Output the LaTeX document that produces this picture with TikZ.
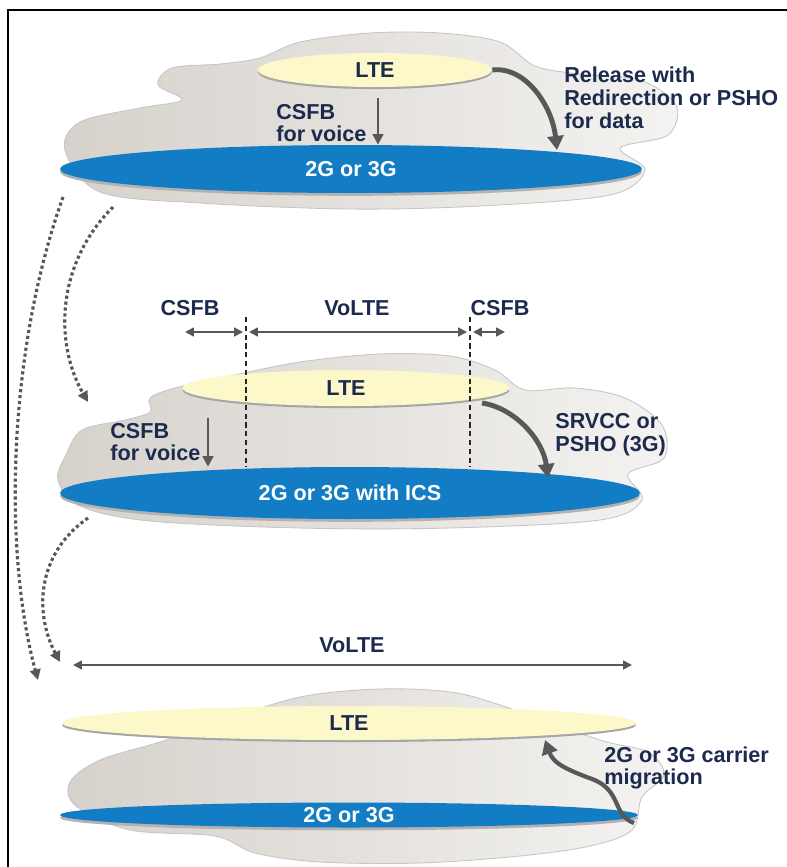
\documentclass[tikz,border=0pt]{standalone}
\usepackage{fontspec}
\setmainfont{Liberation Sans}
\usepackage{xcolor}
\usepackage{tikz}
\usetikzlibrary{arrows.meta,shapes.geometric,shadows,calc,positioning}
\definecolor{azul}{RGB}{18,124,196}
\definecolor{amarillo}{RGB}{252,248,202}
\definecolor{tinta}{RGB}{28,42,78}
\definecolor{flecha}{RGB}{88,88,88}
\definecolor{nubeA}{RGB}{214,209,203}
\definecolor{nubeB}{RGB}{244,243,241}
\tikzset{
  nube/.style={left color=nubeA,right color=nubeB,draw=gray!45,line width=0.5pt},
  lte/.style={ellipse,fill=amarillo,inner sep=0pt,text=tinta,
    drop shadow={shadow xshift=0pt,shadow yshift=-1.2pt,fill=gray!70,opacity=1}},
  banda/.style={ellipse,fill=azul,inner sep=0pt,text=white,
    drop shadow={shadow xshift=0pt,shadow yshift=-1.6pt,fill=gray!60,opacity=1}},
  rotulo/.style={text=tinta,align=left,inner sep=0pt},
  cota/.style={{Triangle[length=5pt,width=5pt]}-{Triangle[length=5pt,width=5pt]},flecha,line width=1pt},
  bajada/.style={-{Triangle[length=6pt,width=6pt]},flecha,line width=1.6pt},
  curva/.style={-{Triangle[length=8pt,width=9pt]},flecha,line width=2.8pt},
  puntos/.style={-{Triangle[length=6pt,width=6pt]},flecha,line width=1.8pt,dash pattern=on 1.8pt off 1.6pt},
  corte/.style={black!85,line width=0.8pt,dash pattern=on 3pt off 2pt}
}
\begin{document}
\begin{tikzpicture}[x=0.02cm,y=-0.02cm,font=\fontsize{12.3}{13}\selectfont\bfseries]
\useasboundingbox (0,0) rectangle (787,867);
\draw[line width=1.4pt] (8,867) -- (8,10) -- (787,10);
% capa superior
\path[nube] plot[smooth cycle,tension=0.55] coordinates {(65,150) (80,122) (140,108) (182,100) (158,85) (172,68) (220,64)
 (260,58) (300,42) (370,33) (440,33) (500,42) (535,66) (580,74) (640,80) (676,105) (668,135) (620,148)
 (645,170) (610,195) (480,206) (350,209) (200,203) (100,192)};
\node[lte,minimum width=4.68cm,minimum height=0.68cm] (lte1) at (375,70) {LTE};
\node[banda,minimum width=11.64cm,minimum height=0.96cm] (banda1) at (351,169) {2G or 3G};
\coordinate (b1) at (378,98);
\draw[bajada] (b1) -- (b1 |- banda1.north);
\node[rotulo,anchor=west] (csfb1) at (276,123) {CSFB\\for voice};
\coordinate (r1) at (557,150);
\draw[curva] (lte1.east) .. controls (525,66) and (552,105) .. (r1);
\node[rotulo,anchor=west] (rel1) at (564,98) {Release with\\Redirection or PSHO\\for data};
% capa intermedia
\node[rotulo] (csfbI) at (190,308) {CSFB};
\node[rotulo] (volte2) at (357,308) {VoLTE};
\node[rotulo] (csfbD) at (500,308) {CSFB};
\path[nube] plot[smooth cycle,tension=0.55] coordinates {(66,455) (82,430) (125,420) (150,412) (150,398) (175,388)
 (230,376) (300,362) (380,354) (450,356) (495,370) (525,390) (575,388) (625,398) (662,425) (664,458)
 (628,474) (642,500) (600,520) (450,528) (300,528) (150,521) (80,506) (58,480)};
\node[lte,minimum width=6.54cm,minimum height=0.72cm] (lte2) at (346,388) {LTE};
\node[banda,minimum width=11.6cm,minimum height=1.04cm] (banda2) at (350,493) {2G or 3G with ICS};
\coordinate (cA) at (246,317);
\coordinate (cB) at (470,317);
\draw[corte] (cA) -- (cA |- banda2.north);
\draw[corte] (cB) -- (cB |- banda2.north);
\coordinate (dI) at (185,332);
\coordinate (dD) at (505,332);
\draw[cota] (dI) -- ($(cA |- dI)+(-3,0)$);
\draw[cota] ($(cA |- dI)+(3,0)$) -- ($(cB |- dI)+(-3,0)$);
\draw[cota] ($(cB |- dI)+(3,0)$) -- (dD);
\coordinate (b2) at (208,418);
\draw[bajada] (b2) -- (b2 |- banda2.north);
\node[rotulo,anchor=west] (csfb2) at (110,442) {CSFB\\for voice};
\coordinate (s2) at (482,403);
\coordinate (r2) at (548,478);
\draw[curva] (s2) .. controls (515,408) and (543,440) .. (r2);
\node[rotulo,anchor=west] (srvcc) at (555,435) {SRVCC or\\PSHO (3G)};
% capa inferior
\node[rotulo] (volte3) at (352,645) {VoLTE};
\coordinate (vI) at (73,665);
\coordinate (vD) at (632,665);
\draw[cota] (vI) -- (vD);
\path[nube] plot[smooth cycle,tension=0.55] coordinates {(220,722) (300,697) (380,689) (450,692) (500,705) (600,740)
 (648,752) (664,775) (642,797) (632,830) (590,846) (520,856) (420,863) (320,862) (255,853) (215,836)
 (130,830) (76,806) (70,782) (100,760) (160,742)};
\node[lte,minimum width=11.48cm,minimum height=0.68cm] (lte3) at (349,723) {LTE};
\node[banda,minimum width=11.56cm,minimum height=0.5cm] (banda3) at (349,815) {2G or 3G};
\coordinate (m0) at (634,823);
\coordinate (m1) at (545,740);
\draw[curva,line width=2.4pt] (m0) .. controls (612,815) and (622,790) .. (592,779)
 .. controls (562,768) and (553,762) .. (m1);
\node[rotulo,anchor=west] (migr) at (604,768) {2G or 3G carrier\\migration};
% saltos punteados
\coordinate (p1) at (63,197);
\coordinate (p2) at (38,680);
\draw[puntos] (p1) .. controls (5,360) and (5,560) .. (p2);
\coordinate (q1) at (113,207);
\coordinate (q2) at (88,402);
\draw[puntos] (q1) .. controls (55,265) and (55,345) .. (q2);
\coordinate (u1) at (88,518);
\coordinate (u2) at (60,662);
\draw[puntos] (u1) .. controls (35,555) and (35,615) .. (u2);
\end{tikzpicture}
\end{document}
